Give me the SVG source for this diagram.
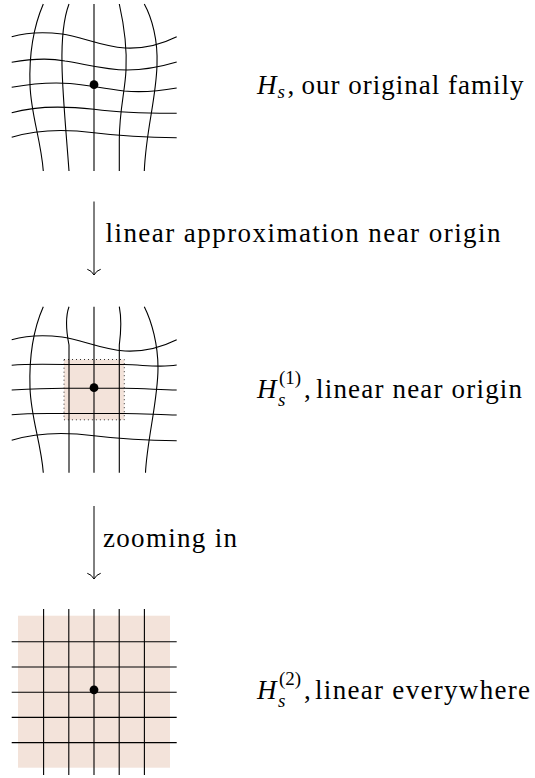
<svg xmlns="http://www.w3.org/2000/svg" width="535" height="778" viewBox="0 0 535 778">
<style>
.g{fill:none;stroke:#000;stroke-width:1.1}
.c{fill:none;stroke:#000;stroke-width:1}
.t{font-family:"Liberation Serif","Times New Roman",serif;font-size:27px;fill:#000}
.i{font-style:italic}
.s{font-size:19px}
.sh{fill:#f3e3da}
</style>
<defs>
<marker id="to" markerUnits="userSpaceOnUse" orient="auto" markerWidth="16" markerHeight="16" viewBox="-8 -8 16 16" refX="0" refY="0" overflow="visible">
<path d="M-5.7,-6.7 Q-4.5,-2.5 0,0 Q-4.5,2.5 -5.7,6.7" fill="none" stroke="#000" stroke-width="1"/>
</marker>
</defs>
<rect width="535" height="778" fill="#fff"/>

<g id="grid1">
<path class="g" d="M43.3,4 C33,28 29,55 30,85 C31,115 41,140 43.3,171"/>
<path class="g" d="M69,4 C63,20 61.5,40 62,65 C62.5,95 66,130 69,171"/>
<path class="g" d="M94,4 L94,171"/>
<path class="g" d="M119.3,4 C124,25 127,50 126,70 C125,92 119.3,110 119.3,140 L119.3,171"/>
<path class="g" d="M144.3,4 C152,18 158,40 157,65 C156,100 146,130 144.3,171"/>
<path class="g" d="M11.7,36.7 C25,33 45,32 62,34 C80,36 100,46 125,48 C145,49 162,44 176.7,36.7"/>
<path class="g" d="M11.7,62.3 C30,59 50,58 65,61 C85,64 105,70 127,70 C145,70 160,67 176.7,62"/>
<path class="g" d="M11.7,87.3 C30,84 50,82 70,83.5 C85,84.5 100,88 124,91 C145,93 160,91 176.7,88"/>
<path class="g" d="M11.7,112.7 C35,106 65,106 94,109.3 C115,112 140,113.5 176.7,113.3"/>
<path class="g" d="M11.7,137.3 C35,130 65,129 94,132.7 C120,136 150,137.5 176.7,137.7"/>
<circle cx="94" cy="84.7" r="4.4"/>
</g>

<g id="label1">
<text class="t i" x="257" y="93.5">H</text>
<text class="t i s" x="277.5" y="97.5">s</text>
<text class="t" x="287.5" y="93.5">,</text>
<text class="t" x="301.5" y="93.5" textLength="222" lengthAdjust="spacing">our original family</text>
</g>

<g id="grid2">
<rect class="sh" x="64" y="359.5" width="60.3" height="60.3"/>
<rect x="64" y="359.5" width="60.3" height="60.3" fill="none" stroke="#333" stroke-width="1" stroke-dasharray="1 3"/>
<path class="g" d="M43.3,306.7 C33,330 29,358 30,388 C31,418 41,443 43.3,472.7"/>
<path class="g" d="M69,306.7 C66,315 66,330 69,345 L69,472.7"/>
<path class="g" d="M94,306.7 L94,472.7"/>
<path class="g" d="M119.3,306.7 C121.5,318 121,332 119.3,345 L119.3,472.7"/>
<path class="g" d="M144.3,306.7 C152,322 158,345 158,368 C158,400 147,440 145.5,472.7"/>
<path class="g" d="M11.7,339.7 C25,336 45,335 62,337 C80,339 100,349 125,351 C145,352 162,347 176.7,339.7"/>
<path class="g" d="M11.7,365.3 C25,364 40,364 64,364.5 L124,364.5 C145,365 160,368 176.7,365"/>
<path class="g" d="M11.7,390 C30,389 45,388.3 64,388.3 L124,388.3 C145,388.3 160,390 176.7,390"/>
<path class="g" d="M11.7,414.7 C30,413 45,413.5 64,413.5 L124,413.5 C145,413.5 160,415 176.7,415"/>
<path class="g" d="M11.7,440.3 C35,433 65,432 94,435.7 C120,439 150,440.5 176.7,440.7"/>
<circle cx="94" cy="387.7" r="4.4"/>
</g>

<g id="label2">
<text class="t i" x="257" y="398">H</text>
<text class="t s" x="279" y="384">(1)</text>
<text class="t i s" x="278" y="406">s</text>
<text class="t" x="304" y="398">,</text>
<text class="t" x="316" y="398" textLength="206" lengthAdjust="spacing">linear near origin</text>
</g>

<g id="grid3">
<rect class="sh" x="18" y="615.7" width="152" height="152"/>
<path class="g" d="M43.6,609 V775 M68.8,609 V775 M94,609 V775 M119.2,609 V775 M144.4,609 V775"/>
<path class="g" d="M11.7,641.8 H176.7 M11.7,667 H176.7 M11.7,692.2 H176.7 M11.7,717.4 H176.7 M11.7,742.6 H176.7"/>
<circle cx="94" cy="689.8" r="4.4"/>
</g>

<g id="label3">
<text class="t i" x="257" y="699">H</text>
<text class="t s" x="279" y="685">(2)</text>
<text class="t i s" x="278" y="707">s</text>
<text class="t" x="304" y="699">,</text>
<text class="t" x="315" y="699" textLength="215" lengthAdjust="spacing">linear everywhere</text>
</g>

<g id="connectors">
<path class="c" d="M94,201.5 L94,275" marker-end="url(#to)"/>
<text class="t" x="105.5" y="242" textLength="395" lengthAdjust="spacing">linear approximation near origin</text>
<path class="c" d="M94,506 L94,579" marker-end="url(#to)"/>
<text class="t" x="103" y="547" textLength="134" lengthAdjust="spacing">zooming in</text>
</g>
</svg>
